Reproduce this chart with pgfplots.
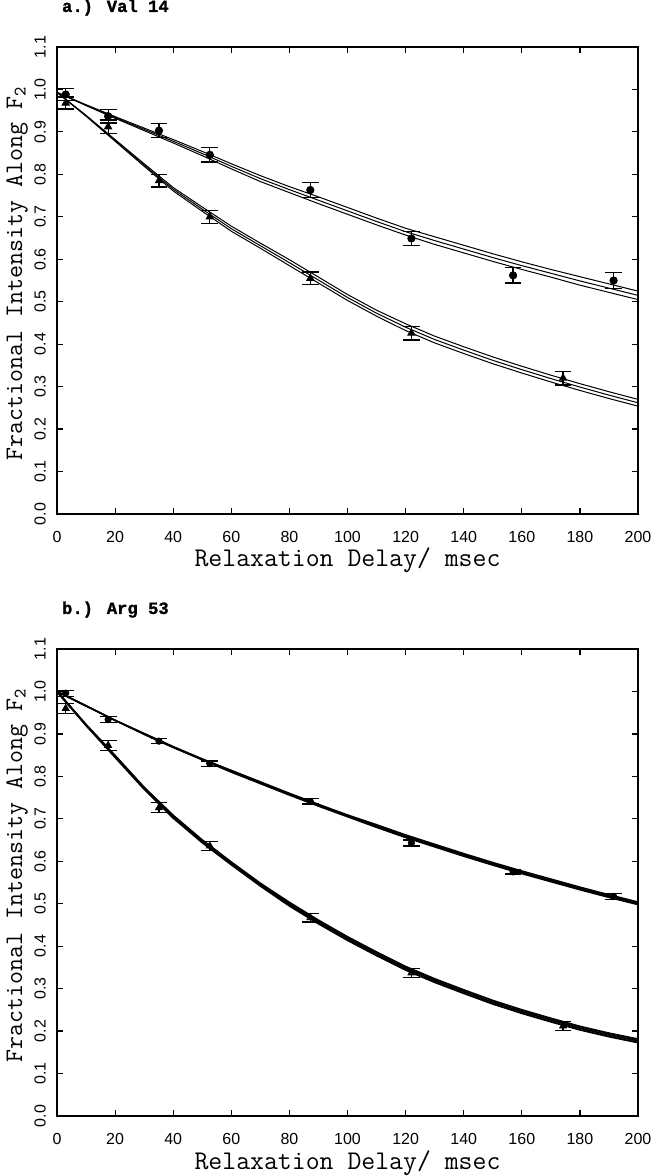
\documentclass[border=0pt]{standalone}
\usepackage{fontspec}
\usepackage{pgfplots}
\usepackage{pgfplotstable}
\pgfplotsset{compat=1.18}
\setmainfont{Liberation Sans}
\newfontfamily\courierbf[FakeBold=1.2]{Liberation Mono Bold}

% ---- a.) Val 14 : measured points (x, y, error)
\pgfplotstableread{
x     y     e
3     0.988 0.014
17.6  0.937 0.016
35.1  0.903 0.017
52.6  0.846 0.017
87.2  0.763 0.017
122   0.649 0.017
157   0.562 0.018
191.6 0.550 0.018
}\circA
\pgfplotstableread{
x     y     e
3     0.968 0.014
17.6  0.912 0.016
35.1  0.785 0.015
52.6  0.700 0.015
87.2  0.555 0.015
122   0.426 0.016
174.2 0.320 0.016
}\triA
% fitted curves with upper / lower bound
\pgfplotstableread{
x   m     hi    lo
0   0.993 0.993 0.993
10  0.963 0.964 0.962
20  0.934 0.936 0.932
30  0.906 0.909 0.903
40  0.878 0.882 0.874
50  0.849 0.854 0.844
60  0.819 0.825 0.813
70  0.790 0.797 0.783
80  0.764 0.771 0.757
90  0.739 0.747 0.731
100 0.714 0.722 0.706
110 0.689 0.697 0.681
120 0.665 0.673 0.657
130 0.644 0.653 0.635
140 0.624 0.633 0.615
150 0.604 0.613 0.595
160 0.585 0.594 0.576
170 0.567 0.576 0.558
180 0.549 0.559 0.539
190 0.532 0.542 0.522
200 0.515 0.525 0.505
}\fitAc
\pgfplotstableread{
x   m     hi    lo
0   0.993 0.993 0.993
10  0.938 0.939 0.937
20  0.880 0.882 0.878
30  0.822 0.825 0.819
40  0.765 0.769 0.761
50  0.718 0.723 0.713
60  0.672 0.678 0.666
70  0.632 0.638 0.626
80  0.592 0.599 0.585
90  0.551 0.558 0.544
100 0.510 0.517 0.503
110 0.473 0.480 0.466
120 0.440 0.448 0.432
130 0.411 0.419 0.403
140 0.386 0.394 0.378
150 0.362 0.370 0.354
160 0.340 0.348 0.332
170 0.319 0.327 0.311
180 0.299 0.307 0.291
190 0.280 0.288 0.272
200 0.262 0.270 0.254
}\fitAt

% ---- b.) Arg 53
\pgfplotstableread{
x     y     e
3     0.996 0.007
17.6  0.934 0.007
35.1  0.883 0.006
52.6  0.830 0.006
87.2  0.741 0.006
122   0.643 0.007
157   0.575 0.005
191.6 0.517 0.007
}\circB
\pgfplotstableread{
x     y     e
3     0.960 0.012
17.6  0.873 0.012
35.1  0.726 0.012
52.6  0.636 0.011
87.2  0.467 0.010
122   0.337 0.010
174.2 0.212 0.011
}\triB
\pgfplotstableread{
x   m     hi    lo
0   1.000 1.000 1.000
10  0.966 0.966 0.966
20  0.932 0.932 0.932
30  0.900 0.901 0.899
40  0.869 0.870 0.868
50  0.840 0.841 0.839
60  0.812 0.814 0.810
70  0.785 0.787 0.783
80  0.758 0.760 0.756
90  0.732 0.734 0.730
100 0.707 0.709 0.705
110 0.683 0.686 0.680
120 0.659 0.662 0.656
130 0.637 0.640 0.634
140 0.615 0.618 0.612
150 0.594 0.597 0.591
160 0.574 0.577 0.571
170 0.555 0.558 0.552
180 0.536 0.539 0.533
190 0.518 0.521 0.515
200 0.501 0.504 0.498
}\fitBc
\pgfplotstableread{
x   m     hi    lo
0   1.000 1.000 1.000
10  0.921 0.922 0.920
20  0.847 0.849 0.845
30  0.772 0.774 0.770
40  0.705 0.708 0.702
50  0.647 0.650 0.644
60  0.595 0.598 0.592
70  0.545 0.548 0.542
80  0.499 0.503 0.495
90  0.457 0.461 0.453
100 0.418 0.422 0.414
110 0.382 0.386 0.378
120 0.348 0.352 0.344
130 0.319 0.323 0.315
140 0.293 0.297 0.289
150 0.268 0.272 0.264
160 0.246 0.250 0.242
170 0.226 0.230 0.222
180 0.207 0.211 0.203
190 0.191 0.195 0.187
200 0.177 0.181 0.173
}\fitBt

\pgfplotsset{
  relax/.style={
    scale only axis,
    width=290.5pt, height=233.5pt,
    xmin=0, xmax=200, ymin=0, ymax=1.1,
    xtick={0,20,...,200},
    ytick={0,0.1,0.2,0.3,0.4,0.5,0.6,0.7,0.8,0.9,1.0,1.1},
    tick align=inside,
    major tick length=2.8pt,
    every tick/.style={black, line width=0.6pt},
    axis line style={line width=0.9pt},
    ticklabel style={font=\fontsize{8}{9}\selectfont},
    /pgf/number format/assume math mode=true,
    xticklabel style={anchor=center, yshift=-11.5pt},
    yticklabel style={xshift=-8.5pt, rotate=90, anchor=center,
      /pgf/number format/.cd, fixed, fixed zerofill, precision=1},
    xlabel={Relaxation Delay/ msec},
    ylabel={Fractional Intensity Along F\textsubscript{2}},
    xlabel style={at={(axis description cs:0.5,-0.1135)}, anchor=base,
      font=\ttfamily\fontsize{13.5}{15}\selectfont},
    ylabel style={at={(axis description cs:-0.0602,0.515)}, anchor=base,
      font=\ttfamily\fontsize{12.6}{14}\selectfont},
    title style={at={(axis description cs:-0.0034,1.0493)}, anchor=base west,
      font=\courierbf\fontsize{8.6}{10}\selectfont},
  },
  band/.style={black, line width=#1, no markers},
  pts/.style 2 args={black, only marks, mark=#1, mark size=#2,
    error bars/.cd, y dir=both, y explicit,
    error bar style={line width=0.6pt},
    error mark options={rotate=90, line width=0.6pt, mark size=4.2pt}},
}

\begin{document}
\begin{tikzpicture}
\useasboundingbox (-28.5pt,-331pt) rectangle (299.5pt,257pt);

\begin{axis}[relax, title={a.) Val 14}]
  \addplot[band=0.5pt] table[x=x, y=m]  {\fitAc};
  \addplot[band=0.5pt] table[x=x, y=hi] {\fitAc};
  \addplot[band=0.5pt] table[x=x, y=lo] {\fitAc};
  \addplot[band=0.5pt] table[x=x, y=m]  {\fitAt};
  \addplot[band=0.5pt] table[x=x, y=hi] {\fitAt};
  \addplot[band=0.5pt] table[x=x, y=lo] {\fitAt};
  \addplot[pts={*}{1.85pt}] table[x=x, y=y, y error=e] {\circA};
  \addplot[pts={triangle*}{2.1pt}] table[x=x, y=y, y error=e] {\triA};
\end{axis}

\begin{axis}[relax, at={(0,-301pt)}, title={b.) Arg 53}]
  \addplot[band=0.8pt] table[x=x, y=m]  {\fitBc};
  \addplot[band=0.8pt] table[x=x, y=hi] {\fitBc};
  \addplot[band=0.8pt] table[x=x, y=lo] {\fitBc};
  \addplot[band=0.9pt] table[x=x, y=m]  {\fitBt};
  \addplot[band=0.9pt] table[x=x, y=hi] {\fitBt};
  \addplot[band=0.9pt] table[x=x, y=lo] {\fitBt};
  \addplot[pts={*}{1.6pt}] table[x=x, y=y, y error=e] {\circB};
  \addplot[pts={triangle*}{2pt}] table[x=x, y=y, y error=e] {\triB};
\end{axis}
\end{tikzpicture}
\end{document}
